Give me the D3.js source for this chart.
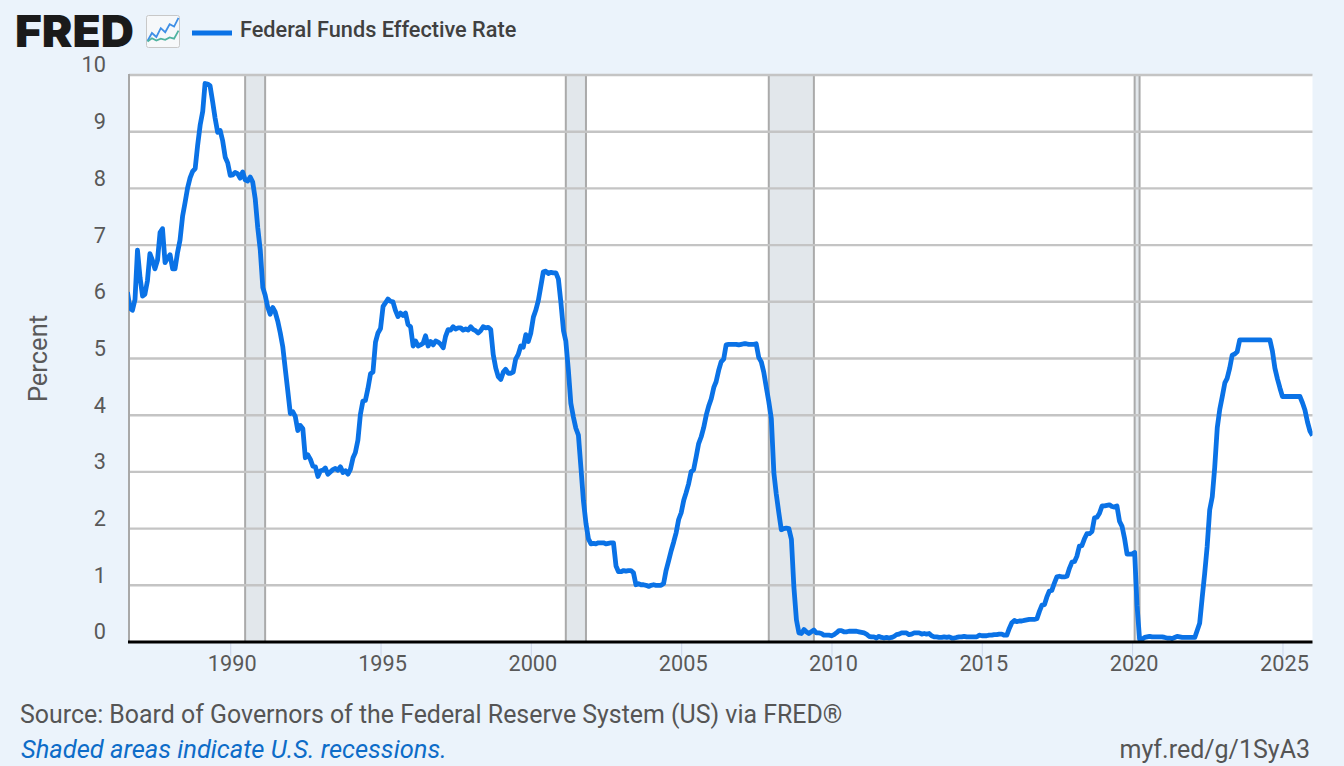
<!DOCTYPE html>
<html>
<head>
<meta charset="utf-8">
<title>Federal Funds Effective Rate</title>
<script src="https://cdn.jsdelivr.net/npm/d3@7"></script>
<style>
  html, body { margin: 0; padding: 0; background: #ebf3fb; }
  svg { display: block; }
  text { font-family: Roboto, sans-serif; }
</style>
</head>
<body>
<svg id="chart" width="1344" height="766"></svg>
<script>
// Federal funds effective rate, monthly, percent
const firstMonth = "1986-08-01";
const rates = [
  6.17, 5.89, 5.85, 6.04, 6.91,
  6.43, 6.10, 6.13, 6.37, 6.85, 6.73, 6.58, 6.73, 7.22, 7.29, 6.69, 6.77,
  6.83, 6.58, 6.58, 6.87, 7.09, 7.51, 7.75, 8.01, 8.19, 8.30, 8.35, 8.76,
  9.12, 9.36, 9.85, 9.84, 9.81, 9.53, 9.24, 8.99, 9.02, 8.84, 8.55, 8.45,
  8.23, 8.24, 8.28, 8.26, 8.18, 8.29, 8.15, 8.13, 8.20, 8.11, 7.81, 7.31,
  6.91, 6.25, 6.12, 5.91, 5.78, 5.90, 5.82, 5.66, 5.45, 5.21, 4.81, 4.43,
  4.03, 4.06, 3.98, 3.73, 3.82, 3.76, 3.25, 3.30, 3.22, 3.10, 3.09, 2.92,
  3.02, 3.03, 3.07, 2.96, 3.00, 3.04, 3.06, 3.03, 3.09, 2.99, 3.02, 2.96,
  3.05, 3.25, 3.34, 3.56, 4.01, 4.25, 4.26, 4.47, 4.73, 4.76, 5.29, 5.45,
  5.53, 5.92, 5.98, 6.05, 6.01, 6.00, 5.85, 5.74, 5.80, 5.76, 5.80, 5.60,
  5.56, 5.22, 5.31, 5.22, 5.24, 5.27, 5.40, 5.22, 5.30, 5.24, 5.31, 5.29,
  5.25, 5.19, 5.39, 5.51, 5.50, 5.56, 5.52, 5.54, 5.54, 5.50, 5.52, 5.50,
  5.56, 5.51, 5.49, 5.45, 5.49, 5.56, 5.54, 5.55, 5.51, 5.07, 4.83, 4.68,
  4.63, 4.76, 4.81, 4.74, 4.74, 4.76, 4.99, 5.07, 5.22, 5.20, 5.42, 5.30,
  5.45, 5.73, 5.85, 6.02, 6.27, 6.53, 6.54, 6.50, 6.52, 6.51, 6.51, 6.40,
  5.98, 5.49, 5.31, 4.80, 4.21, 3.97, 3.77, 3.65, 3.07, 2.49, 2.09, 1.82,
  1.73, 1.74, 1.73, 1.75, 1.75, 1.75, 1.73, 1.74, 1.75, 1.75, 1.34, 1.24,
  1.24, 1.26, 1.25, 1.26, 1.26, 1.22, 1.01, 1.03, 1.01, 1.01, 1.00, 0.98,
  1.00, 1.01, 1.00, 1.00, 1.00, 1.03, 1.26, 1.43, 1.61, 1.76, 1.93, 2.16,
  2.28, 2.50, 2.63, 2.79, 3.00, 3.04, 3.26, 3.50, 3.62, 3.78, 4.00, 4.16,
  4.29, 4.49, 4.59, 4.79, 4.94, 4.99, 5.24, 5.25, 5.25, 5.25, 5.25, 5.24,
  5.25, 5.26, 5.26, 5.25, 5.25, 5.25, 5.26, 5.02, 4.94, 4.76, 4.49, 4.24,
  3.94, 2.98, 2.61, 2.28, 1.98, 2.00, 2.01, 2.00, 1.81, 0.97, 0.39, 0.16,
  0.15, 0.22, 0.18, 0.15, 0.18, 0.21, 0.16, 0.16, 0.15, 0.12, 0.12, 0.12,
  0.11, 0.13, 0.16, 0.20, 0.20, 0.18, 0.18, 0.19, 0.19, 0.19, 0.19, 0.18,
  0.17, 0.16, 0.14, 0.10, 0.09, 0.09, 0.07, 0.10, 0.08, 0.07, 0.08, 0.07,
  0.08, 0.10, 0.13, 0.14, 0.16, 0.16, 0.16, 0.13, 0.14, 0.16, 0.16, 0.16,
  0.14, 0.15, 0.14, 0.15, 0.11, 0.09, 0.09, 0.08, 0.08, 0.09, 0.08, 0.09,
  0.07, 0.07, 0.08, 0.09, 0.09, 0.10, 0.09, 0.09, 0.09, 0.09, 0.09, 0.12,
  0.11, 0.11, 0.11, 0.12, 0.12, 0.13, 0.13, 0.14, 0.14, 0.12, 0.12, 0.24,
  0.34, 0.38, 0.36, 0.37, 0.37, 0.38, 0.39, 0.40, 0.40, 0.40, 0.41, 0.54,
  0.65, 0.66, 0.79, 0.90, 0.91, 1.04, 1.15, 1.16, 1.15, 1.15, 1.16, 1.30,
  1.41, 1.42, 1.51, 1.69, 1.70, 1.82, 1.91, 1.91, 1.95, 2.19, 2.20, 2.27,
  2.40, 2.40, 2.41, 2.42, 2.39, 2.38, 2.40, 2.13, 2.04, 1.83, 1.55, 1.55,
  1.55, 1.58, 0.65, 0.05, 0.05, 0.08, 0.09, 0.10, 0.09, 0.09, 0.09, 0.09,
  0.09, 0.08, 0.07, 0.07, 0.06, 0.08, 0.10, 0.09, 0.08, 0.08, 0.08, 0.08,
  0.08, 0.08, 0.20, 0.33, 0.77, 1.21, 1.68, 2.33, 2.56, 3.08, 3.78, 4.10,
  4.33, 4.57, 4.65, 4.83, 5.06, 5.08, 5.12, 5.33, 5.33, 5.33, 5.33, 5.33,
  5.33, 5.33, 5.33, 5.33, 5.33, 5.33, 5.33, 5.33, 5.13, 4.83, 4.64, 4.48,
  4.33, 4.33, 4.33, 4.33, 4.33, 4.33, 4.33, 4.33, 4.22, 4.09, 3.88, 3.72,
  3.64
];

// NBER recessions as [start, end]
const recessions = [
  ["1990-07-01", "1991-03-01"],
  ["2001-03-01", "2001-11-01"],
  ["2007-12-01", "2009-06-01"],
  ["2020-02-01", "2020-04-01"]
];
const yearTicks = [1990, 1995, 2000, 2005, 2010, 2015, 2020, 2025];
const percentTicks = [0, 1, 2, 3, 4, 5, 6, 7, 8, 9, 10];

const seriesName = "Federal Funds Effective Rate";
const sourceText = "Source: Board of Governors of the Federal Reserve System (US) via FRED\u00AE";
const shadedText = "Shaded areas indicate U.S. recessions.";
const linkText = "myf.red/g/1SyA3";

// Small sparkline glyphs inside the logo badge
const badgeBlue = [1, 3, 2, 4.2, 3.2, 5.2, 4.6, 6.8];
const badgeGreen = [0.9, 1.7, 1.1, 1.6, 1.3, 1.9, 1.6, 3.6];

const parse = d3.utcParse("%Y-%m-%d");
const start = parse(firstMonth);
const series = rates.map((v, i) => ({ date: d3.utcMonth.offset(start, i), value: v }));

const plot = { left: 129, right: 1312.5, top: 75, bottom: 642 };

const x = d3.scaleUtc()
  .domain([parse("1986-08-20"), parse("2026-01-01")])
  .range([plot.left, plot.right]);
const y = d3.scaleLinear().domain([0, 10]).range([plot.bottom, plot.top]);

const svg = d3.select("#chart");

// page and plot backgrounds
svg.append("rect").attr("width", 1344).attr("height", 766).attr("fill", "#ebf3fb");
svg.append("rect")
  .attr("x", plot.left).attr("y", plot.top)
  .attr("width", plot.right - plot.left).attr("height", plot.bottom - plot.top)
  .attr("fill", "#ffffff");

svg.append("defs").append("clipPath").attr("id", "plot-clip").append("rect")
  .attr("x", plot.left).attr("y", plot.top - 2)
  .attr("width", plot.right - plot.left).attr("height", plot.bottom - plot.top + 2);

// recession bands with darker edges
const bands = svg.append("g").selectAll("g").data(recessions).join("g");
bands.append("rect")
  .attr("x", d => x(parse(d[0])))
  .attr("y", plot.top)
  .attr("width", d => x(parse(d[1])) - x(parse(d[0])))
  .attr("height", plot.bottom - plot.top)
  .attr("fill", "#e2e7eb");

// horizontal grid
svg.append("g").selectAll("line").data(percentTicks.filter(t => t > 0)).join("line")
  .attr("x1", plot.left).attr("x2", plot.right)
  .attr("y1", d => y(d)).attr("y2", d => y(d))
  .attr("stroke", "#c4c4c4").attr("stroke-width", 2.4);

bands.selectAll("line").data(d => d).join("line")
  .attr("x1", d => x(parse(d))).attr("x2", d => x(parse(d)))
  .attr("y1", plot.top).attr("y2", plot.bottom)
  .attr("stroke", "#aaaaaa").attr("stroke-width", 2);

// left edge of the plot
svg.append("line")
  .attr("x1", plot.left).attr("x2", plot.left)
  .attr("y1", plot.top - 1).attr("y2", plot.bottom)
  .attr("stroke", "#a8a8a8").attr("stroke-width", 2);

// rate line
const line = d3.line().x(d => x(d.date)).y(d => y(d.value)).curve(d3.curveLinear);
svg.append("path")
  .datum(series)
  .attr("clip-path", "url(#plot-clip)")
  .attr("d", line)
  .attr("fill", "none")
  .attr("stroke", "#0a72e6")
  .attr("stroke-width", 4.8)
  .attr("stroke-linejoin", "round");

// x axis: black baseline, pale ticks, year labels
const xAxis = d3.axisBottom(x)
  .tickValues(yearTicks.map(yr => new Date(Date.UTC(yr, 0, 1))))
  .tickFormat(d3.utcFormat("%Y"))
  .tickSize(14)
  .tickPadding(0);
const xg = svg.append("g").attr("transform", `translate(0,${plot.bottom})`).call(xAxis);
xg.select(".domain").remove();
xg.selectAll(".tick line").attr("stroke", "#ccd6eb").attr("stroke-width", 1);
xg.selectAll(".tick text")
  .attr("font-size", 21.7).attr("fill", "#595959").attr("dx", 1.5)
  .style("font-family", "Roboto, sans-serif");
svg.append("line")
  .attr("x1", plot.left - 1).attr("x2", plot.right)
  .attr("y1", plot.bottom).attr("y2", plot.bottom)
  .attr("stroke", "#000000").attr("stroke-width", 3);

// y axis: labels sit just above their gridlines
const yAxis = d3.axisLeft(y).tickValues(percentTicks).tickSize(0).tickPadding(0);
const yg = svg.append("g").attr("transform", "translate(106,0)").call(yAxis);
yg.select(".domain").remove();
yg.selectAll(".tick text")
  .attr("font-size", 21.7).attr("fill", "#595959").attr("y", -10)
  .style("font-family", "Roboto, sans-serif");

svg.append("text")
  .attr("transform", "translate(47,358.5) rotate(-90)")
  .attr("text-anchor", "middle")
  .attr("font-size", 25.5).attr("fill", "#595959")
  .text("Percent");

// logo wordmark and badge
svg.append("text")
  .attr("x", 15).attr("y", 47)
  .attr("font-size", 44).attr("font-weight", 900).attr("fill", "#1a1a1a")
  .style("font-family", "Inter, sans-serif")
  .attr("textLength", 119).attr("lengthAdjust", "spacingAndGlyphs")
  .text("FRED");
svg.append("rect")
  .attr("x", 146.5).attr("y", 15.5).attr("width", 33).attr("height", 32).attr("rx", 2)
  .attr("fill", "#f6f8fa").attr("stroke", "#c8c8c8");
const bx = d3.scaleLinear().domain([0, badgeBlue.length - 1]).range([147.5, 178.5]);
const by = d3.scaleLinear().domain([0, 7]).range([45, 17]);
const badgeLine = d3.line().x((d, i) => bx(i)).y(d => by(d));
svg.append("path").attr("d", badgeLine(badgeBlue)).attr("fill", "none").attr("stroke", "#3f8fe6").attr("stroke-width", 1.8);
svg.append("path").attr("d", badgeLine(badgeGreen)).attr("fill", "none").attr("stroke", "#4fb3a0").attr("stroke-width", 1.8);

// legend
svg.append("line")
  .attr("x1", 192).attr("x2", 232).attr("y1", 33).attr("y2", 33)
  .attr("stroke", "#0a72e6").attr("stroke-width", 4.8);
svg.append("text")
  .attr("x", 240).attr("y", 37)
  .attr("font-size", 21.7).attr("font-weight", 500).attr("fill", "#404040")
  .text(seriesName);

// footer notes
svg.append("text")
  .attr("x", 20).attr("y", 723)
  .attr("font-size", 24.9).attr("fill", "#555555")
  .text(sourceText);
svg.append("text")
  .attr("x", 21).attr("y", 758)
  .attr("font-size", 25.5).attr("font-style", "italic").attr("fill", "#0d6cc8")
  .text(shadedText);
svg.append("text")
  .attr("x", 1310).attr("y", 758).attr("text-anchor", "end")
  .attr("font-size", 25).attr("fill", "#555555")
  .text(linkText);
</script>
</body>
</html>
